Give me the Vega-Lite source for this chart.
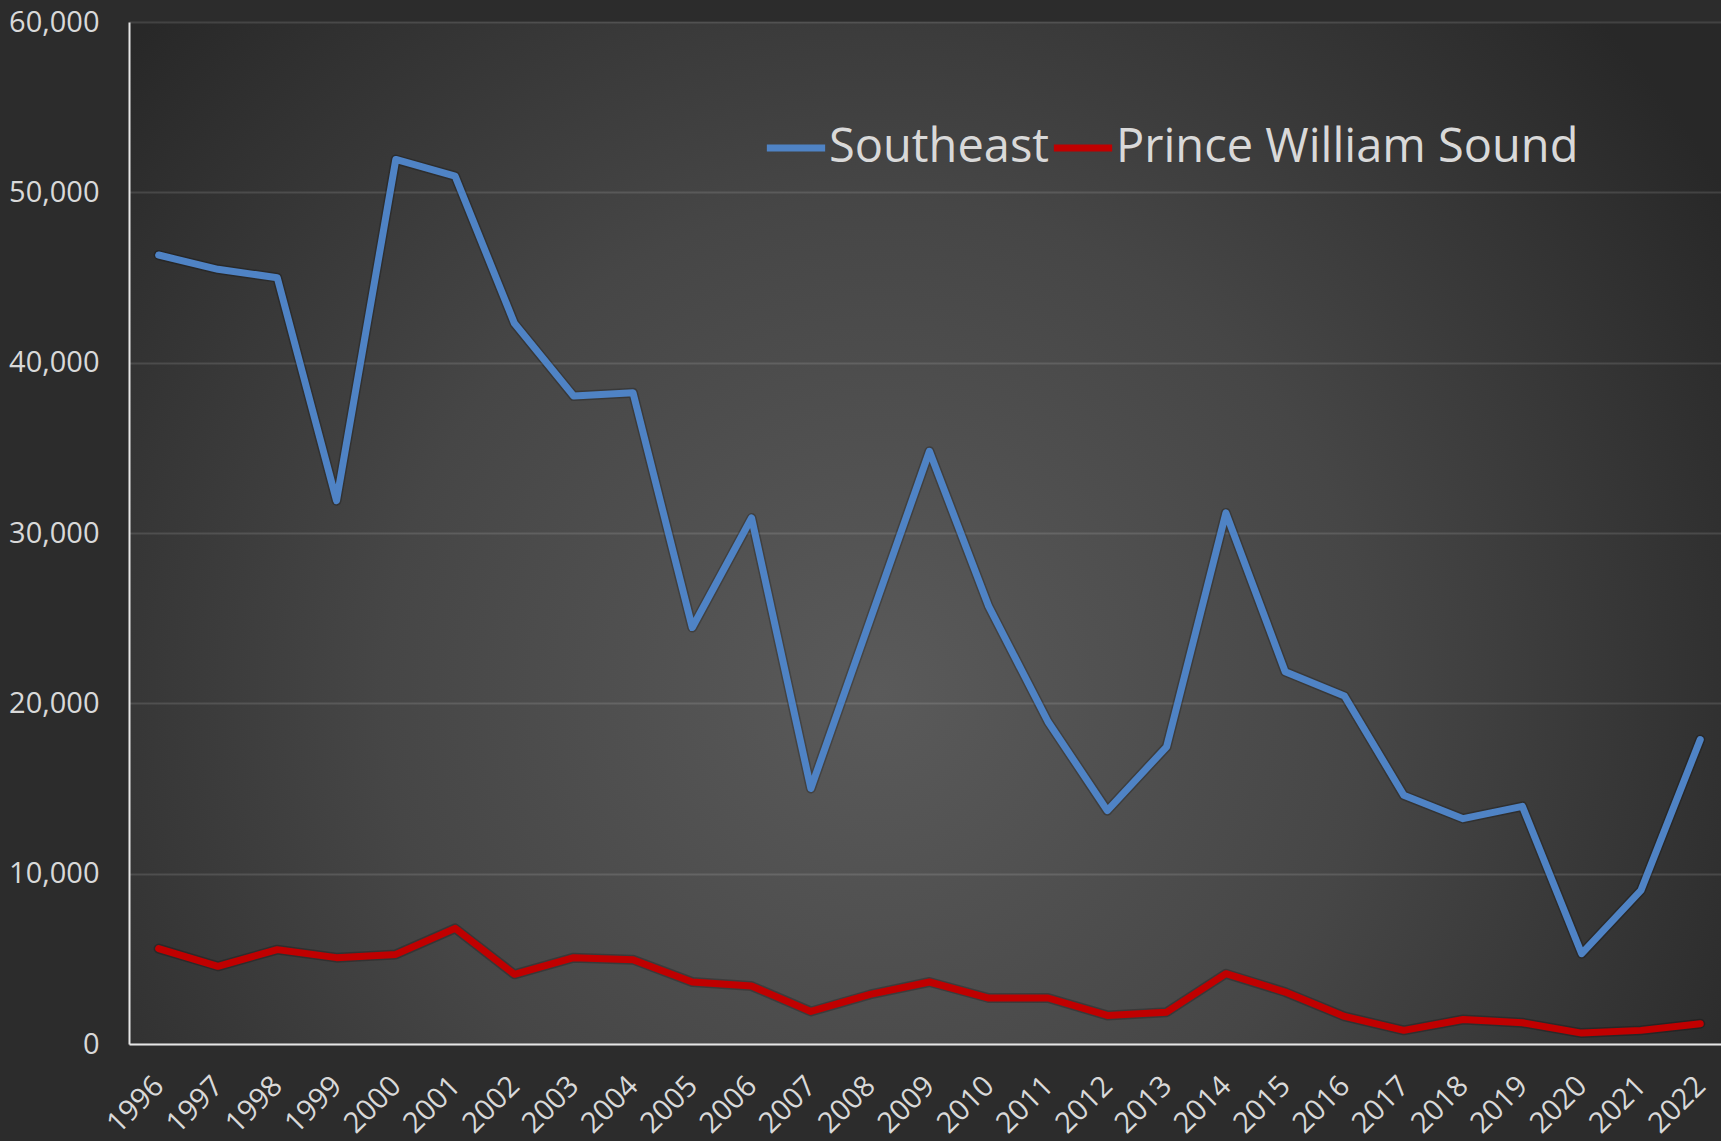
{
  "$schema": "https://vega.github.io/schema/vega-lite/v6.json",
  "width": 1592,
  "height": 1022,
  "autosize": {"type": "none"},
  "padding": {"left": 129, "top": 22, "right": 0, "bottom": 97},
  "background": "#2c2c2c",
  "config": {
    "font": "Open Sans",
    "view": {
      "stroke": null,
      "fill": {
        "gradient": "radial",
        "x1": 0.47, "y1": 0.6, "r1": 0,
        "x2": 0.47, "y2": 0.6, "r2": 0.62,
        "stops": [
          {"offset": 0, "color": "#5a5a5a"},
          {"offset": 0.5, "color": "#464646"},
          {"offset": 1, "color": "#282828"}
        ]
      }
    },
    "axis": {
      "labelColor": "#d9d9d9",
      "labelFont": "Open Sans",
      "labelFontSize": 29,
      "ticks": false,
      "title": null,
      "domainColor": "#e6e6e6",
      "domainWidth": 2,
      "gridColor": "#ffffff",
      "gridOpacity": 0.12,
      "gridWidth": 2
    },
    "legend": {
      "orient": "none",
      "legendX": 634,
      "legendY": 93,
      "direction": "horizontal",
      "title": null,
      "symbolType": "stroke",
      "symbolSize": 3400,
      "symbolStrokeWidth": 7,
      "labelFont": "Open Sans",
      "labelFontSize": 47,
      "labelColor": "#d9d9d9",
      "labelOffset": 0,
      "labelLimit": 0,
      "columnPadding": -19
    }
  },
  "data": {
    "values": [
      {"year": 1996, "region": "Southeast", "value": 46320},
      {"year": 1997, "region": "Southeast", "value": 45480},
      {"year": 1998, "region": "Southeast", "value": 44990},
      {"year": 1999, "region": "Southeast", "value": 31900},
      {"year": 2000, "region": "Southeast", "value": 51930},
      {"year": 2001, "region": "Southeast", "value": 50950},
      {"year": 2002, "region": "Southeast", "value": 42310},
      {"year": 2003, "region": "Southeast", "value": 38040},
      {"year": 2004, "region": "Southeast", "value": 38240},
      {"year": 2005, "region": "Southeast", "value": 24450},
      {"year": 2006, "region": "Southeast", "value": 30880},
      {"year": 2007, "region": "Southeast", "value": 15000},
      {"year": 2008, "region": "Southeast", "value": 24900},
      {"year": 2009, "region": "Southeast", "value": 34800},
      {"year": 2010, "region": "Southeast", "value": 25690},
      {"year": 2011, "region": "Southeast", "value": 18920},
      {"year": 2012, "region": "Southeast", "value": 13700},
      {"year": 2013, "region": "Southeast", "value": 17450},
      {"year": 2014, "region": "Southeast", "value": 31180},
      {"year": 2015, "region": "Southeast", "value": 21860},
      {"year": 2016, "region": "Southeast", "value": 20430},
      {"year": 2017, "region": "Southeast", "value": 14600},
      {"year": 2018, "region": "Southeast", "value": 13230},
      {"year": 2019, "region": "Southeast", "value": 13950},
      {"year": 2020, "region": "Southeast", "value": 5300},
      {"year": 2021, "region": "Southeast", "value": 9020},
      {"year": 2022, "region": "Southeast", "value": 17870},
      {"year": 1996, "region": "Prince William Sound", "value": 5600},
      {"year": 1997, "region": "Prince William Sound", "value": 4560},
      {"year": 1998, "region": "Prince William Sound", "value": 5540},
      {"year": 1999, "region": "Prince William Sound", "value": 5070},
      {"year": 2000, "region": "Prince William Sound", "value": 5260},
      {"year": 2001, "region": "Prince William Sound", "value": 6790},
      {"year": 2002, "region": "Prince William Sound", "value": 4090},
      {"year": 2003, "region": "Prince William Sound", "value": 5070},
      {"year": 2004, "region": "Prince William Sound", "value": 4950},
      {"year": 2005, "region": "Prince William Sound", "value": 3640},
      {"year": 2006, "region": "Prince William Sound", "value": 3400},
      {"year": 2007, "region": "Prince William Sound", "value": 1910},
      {"year": 2008, "region": "Prince William Sound", "value": 2910},
      {"year": 2009, "region": "Prince William Sound", "value": 3640},
      {"year": 2010, "region": "Prince William Sound", "value": 2700},
      {"year": 2011, "region": "Prince William Sound", "value": 2700},
      {"year": 2012, "region": "Prince William Sound", "value": 1680},
      {"year": 2013, "region": "Prince William Sound", "value": 1870},
      {"year": 2014, "region": "Prince William Sound", "value": 4130},
      {"year": 2015, "region": "Prince William Sound", "value": 3050},
      {"year": 2016, "region": "Prince William Sound", "value": 1620},
      {"year": 2017, "region": "Prince William Sound", "value": 800},
      {"year": 2018, "region": "Prince William Sound", "value": 1440},
      {"year": 2019, "region": "Prince William Sound", "value": 1250},
      {"year": 2020, "region": "Prince William Sound", "value": 640},
      {"year": 2021, "region": "Prince William Sound", "value": 800},
      {"year": 2022, "region": "Prince William Sound", "value": 1190}
    ]
  },
  "encoding": {
    "x": {
      "field": "year",
      "type": "quantitative",
      "scale": {"domain": [1995.5, 2022.35], "nice": false, "zero": false},
      "axis": {
        "values": [1996, 1997, 1998, 1999, 2000, 2001, 2002, 2003, 2004, 2005, 2006, 2007, 2008, 2009, 2010, 2011, 2012, 2013, 2014, 2015, 2016, 2017, 2018, 2019, 2020, 2021, 2022],
        "format": "d",
        "labelAngle": -45,
        "labelAlign": "right",
        "labelBaseline": "middle",
        "labelPadding": 37,
        "grid": false,
        "labelOverlap": false,
        "labelFlush": false
      }
    },
    "y": {
      "field": "value",
      "type": "quantitative",
      "scale": {"domain": [0, 60000], "nice": false},
      "axis": {
        "values": [0, 10000, 20000, 30000, 40000, 50000, 60000],
        "format": ",d",
        "labelPadding": 30,
        "grid": true
      }
    }
  },
  "layer": [
    {
      "mark": {"type": "line", "stroke": "#000000", "strokeWidth": 10, "opacity": 0.22, "strokeJoin": "round", "strokeCap": "round"},
      "encoding": {"detail": {"field": "region"}}
    },
    {
      "mark": {"type": "line", "strokeWidth": 7, "strokeJoin": "round", "strokeCap": "round"},
      "encoding": {
        "color": {
          "field": "region",
          "type": "nominal",
          "scale": {"domain": ["Southeast", "Prince William Sound"], "range": ["#4f83c5", "#c00000"]}
        }
      }
    }
  ]
}
